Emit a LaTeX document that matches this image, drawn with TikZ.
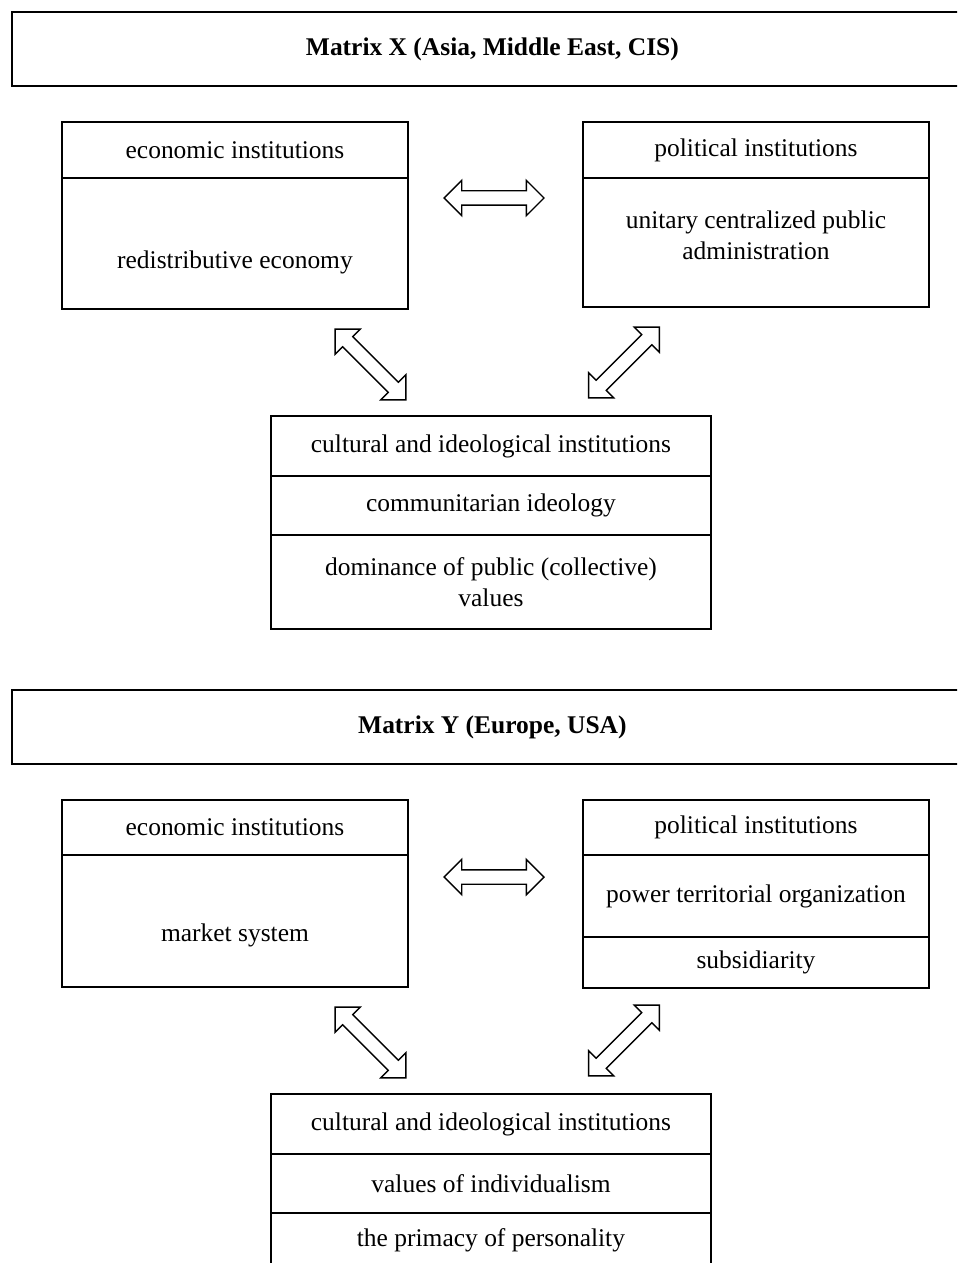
\documentclass[tikz,border=0pt]{standalone}
\usepackage{fontspec}
\setmainfont{Liberation Serif}
\usetikzlibrary{positioning,shapes.arrows}

\begin{document}
\begin{tikzpicture}[x=0.02cm, y=-0.02cm,
    font=\fontsize{14.5}{17.5}\selectfont,
    cell/.style={draw, line width=1pt, inner sep=0pt, outer sep=0pt, align=center, anchor=north west},
    narrow/.style={cell, minimum width=6.92cm},
    wide/.style={cell, minimum width=8.8cm},
    title/.style={cell, minimum width=19.22cm, minimum height=1.48cm, font=\fontsize{14.5}{17.5}\selectfont\bfseries},
    bigarrow/.style={double arrow, draw, line width=0.8pt, inner xsep=0pt, inner ysep=0.13cm,
        minimum height=2cm, minimum width=0.68cm,
        double arrow head extend=0.21cm, double arrow tip angle=90}]
  \path[use as bounding box, clip] (0,0) rectangle (957,1263);

  % Matrix X
  \node[title] (titleX) at (12,12) {Matrix X (Asia, Middle East, CIS)};
  \node[narrow, minimum height=1.12cm] (ecoXh) at (62,122) {economic institutions};
  \node[narrow, minimum height=2.62cm, below=0pt of ecoXh,
        label={[yshift=-0.37cm]center:redistributive economy}] (ecoXb) {};
  \node[narrow, minimum height=1.12cm] (polXh) at (583,122) {political institutions};
  \node[narrow, minimum height=2.58cm, below=0pt of polXh,
        label={[align=center, yshift=0.14cm]center:{unitary centralized public\\administration}}] (polXb) {};
  \node[wide, minimum height=1.2cm] (cultXh) at (271,416) {cultural and ideological institutions};
  \node[wide, minimum height=1.18cm, below=0pt of cultXh] (cultXm) {communitarian ideology};
  \node[wide, minimum height=1.88cm, below=0pt of cultXm] (cultXl) {dominance of public (collective)\\values};
  \node[bigarrow] (arrXh) at (494,198) {};
  \node[bigarrow, rotate=-45] (arrXl) at (370.5,364.5) {};
  \node[bigarrow, rotate=45] (arrXr) at (624,362.5) {};

  % Matrix Y
  \node[title] (titleY) at (12,690) {Matrix Y (Europe, USA)};
  \node[narrow, minimum height=1.1cm] (ecoYh) at (62,800) {economic institutions};
  \node[narrow, minimum height=2.64cm, below=0pt of ecoYh,
        label={[yshift=-0.28cm]center:market system}] (ecoYb) {};
  \node[narrow, minimum height=1.1cm] (polYh) at (583,800) {political institutions};
  \node[narrow, minimum height=1.64cm, below=0pt of polYh] (polYm) {power territorial organization};
  \node[narrow, minimum height=1.02cm, below=0pt of polYm] (polYl) {subsidiarity};
  \node[wide, minimum height=1.2cm] (cultYh) at (271,1094) {cultural and ideological institutions};
  \node[wide, minimum height=1.18cm, below=0pt of cultYh] (cultYm) {values of individualism};
  \node[wide, minimum height=1.08cm, below=0pt of cultYm] (cultYl) {the primacy of personality};
  \node[bigarrow] (arrYh) at (494,877) {};
  \node[bigarrow, rotate=-45] (arrYl) at (370.5,1042.5) {};
  \node[bigarrow, rotate=45] (arrYr) at (624,1040.5) {};
\end{tikzpicture}
\end{document}
